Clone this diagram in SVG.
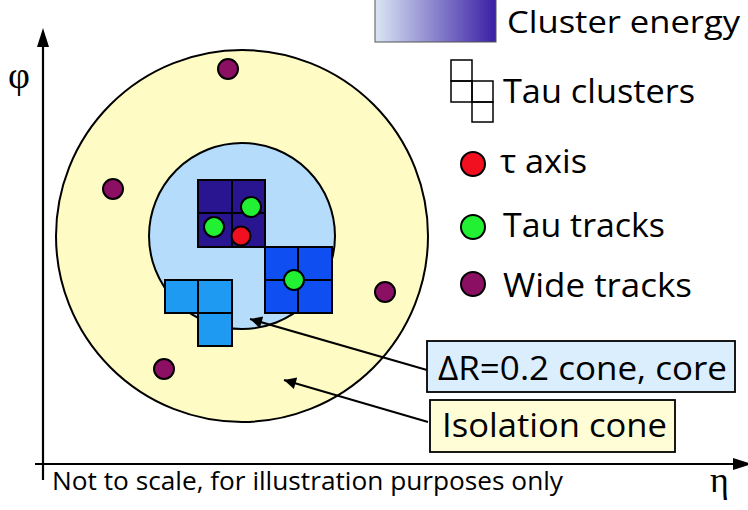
<svg xmlns="http://www.w3.org/2000/svg" width="748" height="510" viewBox="0 0 748 510">
<defs>
<linearGradient id="energy" x1="0" y1="0" x2="1" y2="0">
<stop offset="0" stop-color="#D9E6F4"/>
<stop offset="1" stop-color="#3A1FA4"/>
</linearGradient>
<marker id="ah" viewBox="0 0 10 10" refX="10" refY="5" markerWidth="16" markerHeight="12" markerUnits="userSpaceOnUse" orient="auto">
<path d="M0,0 L10,5 L0,10 Z" fill="#000"/>
</marker>
</defs>
<style>
.lbl{font-family:"Open Sans","DejaVu Sans",sans-serif;fill:#000}
.greek{font-family:"Liberation Serif","DejaVu Serif",serif;fill:#000}
.cell{stroke:#000;stroke-width:2}
.dot{stroke:#000;stroke-width:2}
.track{fill:#8B0F62}
.tau{fill:#22F033}
.axisdot{fill:#F01020}
.ax{stroke:#000;stroke-width:2.2;fill:none}
.conn{stroke:#000;stroke-width:2;fill:none}
.box{stroke:#000;stroke-width:1.8}
</style>
<rect width="748" height="510" fill="#fff"/>

<g id="axes">
<line class="ax" x1="43" y1="480" x2="43" y2="44"/>
<path d="M43,28 L49,47 L37,47 Z" fill="#000"/>
<line class="ax" x1="35" y1="464" x2="734" y2="464"/>
<path d="M752,464 L733,458 L733,470 Z" fill="#000"/>
<text class="greek" x="8" y="88" font-size="38">φ</text>
<text class="greek" x="710" y="492" font-size="36">η</text>
<text class="lbl" x="52" y="490" font-size="26" textLength="511" lengthAdjust="spacingAndGlyphs">Not to scale, for illustration purposes only</text>
</g>

<g id="isolation-cone">
<circle cx="242" cy="236" r="186" fill="#FEFBC4" stroke="#000" stroke-width="2"/>
</g>
<g id="core-cone">
<circle cx="242" cy="236" r="93" fill="#B5DCFA" stroke="#000" stroke-width="2"/>
</g>

<g id="cluster-dark">
<rect class="cell" x="198" y="180" width="67" height="67" fill="#28158F"/>
<line class="cell" x1="232" y1="180" x2="232" y2="247"/>
<line class="cell" x1="198" y1="213" x2="265" y2="213"/>
</g>
<g id="cluster-medium">
<rect class="cell" x="265" y="247" width="67" height="66" fill="#0F4FF2"/>
<line class="cell" x1="298" y1="247" x2="298" y2="313"/>
<line class="cell" x1="265" y1="280" x2="332" y2="280"/>
</g>
<g id="cluster-light">
<path class="cell" d="M165,280 H232 V346 H198 V313 H165 Z" fill="#1E9AF2"/>
<line class="cell" x1="198" y1="280" x2="198" y2="313"/>
<line class="cell" x1="198" y1="313" x2="232" y2="313"/>
</g>

<g id="tau-tracks">
<circle class="dot tau" cx="251" cy="207" r="10"/>
<circle class="dot tau" cx="214" cy="227" r="10"/>
<circle class="dot tau" cx="294" cy="280" r="10"/>
</g>
<g id="tau-axis">
<circle class="dot axisdot" cx="241" cy="236" r="9.5"/>
</g>
<g id="wide-tracks">
<circle class="dot track" cx="228" cy="69" r="10"/>
<circle class="dot track" cx="113" cy="189" r="10"/>
<circle class="dot track" cx="164" cy="369" r="10"/>
<circle class="dot track" cx="385" cy="292" r="10"/>
</g>

<g id="connectors">
<line class="conn" x1="427" y1="370" x2="250" y2="319" marker-end="url(#ah)"/>
<line class="conn" x1="428" y1="422" x2="284" y2="380" marker-end="url(#ah)"/>
</g>

<g id="label-core">
<rect class="box" x="427" y="341" width="308" height="51" fill="#DBEEFD"/>
<text class="lbl" x="438" y="380" font-size="33" textLength="289" lengthAdjust="spacingAndGlyphs">ΔR=0.2 cone, core</text>
</g>
<g id="label-isolation">
<rect class="box" x="430" y="400" width="245" height="52" fill="#FFFDD6"/>
<text class="lbl" x="442" y="437" font-size="33" textLength="225" lengthAdjust="spacingAndGlyphs">Isolation cone</text>
</g>

<g id="legend-energy">
<rect x="375" y="-2" width="121" height="44" fill="url(#energy)" stroke="#555" stroke-width="1"/>
<text class="lbl" x="507" y="33" font-size="31" textLength="233" lengthAdjust="spacingAndGlyphs">Cluster energy</text>
</g>
<g id="legend-clusters">
<g fill="none" stroke="#000" stroke-width="1.5">
<rect x="451" y="60" width="21" height="21"/>
<rect x="451" y="81" width="21" height="21"/>
<rect x="472" y="81" width="21" height="21"/>
<rect x="472" y="102" width="21" height="20"/>
</g>
<text class="lbl" x="503" y="103" font-size="33" textLength="192" lengthAdjust="spacingAndGlyphs">Tau clusters</text>
</g>
<g id="legend-axis">
<circle class="dot axisdot" cx="473" cy="164" r="12"/>
<text class="lbl" x="500" y="173" font-size="33" textLength="87" lengthAdjust="spacingAndGlyphs">τ axis</text>
</g>
<g id="legend-tau-tracks">
<circle class="dot tau" cx="473" cy="227" r="12"/>
<text class="lbl" x="503" y="237" font-size="33" textLength="162" lengthAdjust="spacingAndGlyphs">Tau tracks</text>
</g>
<g id="legend-wide-tracks">
<circle class="dot track" cx="473" cy="284" r="12"/>
<text class="lbl" x="503" y="297" font-size="33" textLength="189" lengthAdjust="spacingAndGlyphs">Wide tracks</text>
</g>
</svg>
